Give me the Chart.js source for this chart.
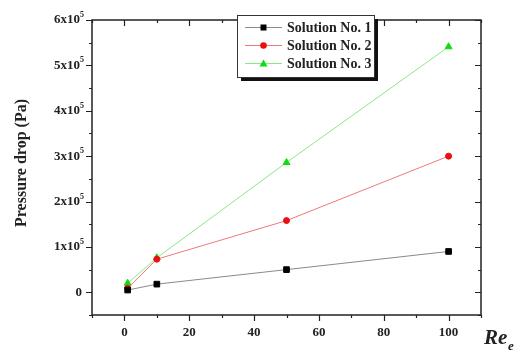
<!DOCTYPE html>
<html>
<head>
<meta charset="utf-8">
<script src="https://cdn.jsdelivr.net/npm/chart.js@4"></script>
<style>
  html, body { margin: 0; padding: 0; background: #fff; }
  #wrap { width: 516px; height: 352px; position: relative; }
</style>
</head>
<body>
<div id="wrap"><canvas id="myChart" width="516" height="352"></canvas></div>
<script>
// values
const reValues = [1, 10, 50, 100];
const solution1 = [5000, 18000, 50000, 90000];
const solution2 = [9000, 73000, 158000, 300000];
const solution3 = [20000, 76000, 286000, 541000];
const seriesNames = ['Solution No. 1', 'Solution No. 2', 'Solution No. 3'];
const xTicks = [0, 20, 40, 60, 80, 100];
const yTicks = [0, 1, 2, 3, 4, 5, 6]; // x10^5

const FONT = '"Liberation Serif", "Times New Roman", serif';

function pts(arr) {
  return reValues.map((x, i) => ({ x: x, y: arr[i] }));
}

// frame, ticks, labels and legend in the style of the original plot
const framePlugin = {
  id: 'frame',
  afterDraw(chart) {
    const c = chart.ctx;
    const a = chart.chartArea;
    const xs = chart.scales.x, ys = chart.scales.y;
    c.save();
    c.strokeStyle = '#222';
    c.lineWidth = 1.5;
    c.strokeRect(a.left, a.top, a.right - a.left, a.bottom - a.top);

    c.lineWidth = 1.2;
    c.beginPath();
    // x ticks (major 20, minor 10)
    for (let v = -10; v <= 110; v += 10) {
      const px = Math.round(xs.getPixelForValue(v)) + 0.5;
      const len = (v % 20 === 0) ? 6 : 3;
      c.moveTo(px, a.bottom); c.lineTo(px, a.bottom + len);
      c.moveTo(px, a.top); c.lineTo(px, a.top + len);
    }
    // y ticks (major 1e5, minor 5e4)
    for (let v = -50000; v <= 600000; v += 50000) {
      const py = Math.round(ys.getPixelForValue(v)) + 0.5;
      const len = (v % 100000 === 0) ? 6 : 3;
      c.moveTo(a.left, py); c.lineTo(a.left - len, py);
      c.moveTo(a.right, py); c.lineTo(a.right - len, py);
    }
    c.stroke();

    // tick labels
    c.fillStyle = '#222';
    c.font = 'bold 13px ' + FONT;
    c.textAlign = 'center';
    c.textBaseline = 'middle';
    xTicks.forEach(v => {
      c.fillText(String(v), xs.getPixelForValue(v), a.bottom + 18);
    });
    c.textAlign = 'right';
    yTicks.forEach(v => {
      const py = ys.getPixelForValue(v * 100000);
      if (v === 0) {
        c.font = 'bold 13px ' + FONT;
        c.fillText('0', a.left - 10, py);
      } else {
        c.font = 'bold 8px ' + FONT;
        c.fillText('5', a.left - 8, py - 5);
        c.font = 'bold 13px ' + FONT;
        c.fillText(v + 'x10', a.left - 12, py);
      }
    });

    // axis titles
    c.font = 'bold 16px ' + FONT;
    c.textAlign = 'center';
    c.save();
    c.translate(22, 163);
    c.rotate(-Math.PI / 2);
    c.fillText('Pressure drop (Pa)', 0, 0);
    c.restore();
    c.textAlign = 'left';
    c.font = 'italic bold 21px ' + FONT;
    c.fillText('Re', 484, 339);
    c.font = 'italic bold 13px ' + FONT;
    c.fillText('e', 508, 347);

    // legend box with shadow
    const lx = 237, ly = 15, lw = 137, lh = 62;
    c.fillStyle = '#111';
    c.fillRect(lx + 4, ly + 4, lw, lh);
    c.fillStyle = '#fff';
    c.fillRect(lx, ly, lw, lh);
    c.strokeStyle = '#333';
    c.lineWidth = 1;
    c.strokeRect(lx + 0.5, ly + 0.5, lw, lh);
    chart.data.datasets.forEach((ds, i) => {
      const y = 27 + i * 18;
      c.strokeStyle = ds.borderColor;
      c.lineWidth = 1;
      c.beginPath(); c.moveTo(245, y + 0.5); c.lineTo(282, y + 0.5); c.stroke();
      c.fillStyle = ds.pointBackgroundColor;
      c.beginPath();
      if (ds.pointStyle === 'rect') {
        c.rect(260.5, y - 2.5, 6, 6);
      } else if (ds.pointStyle === 'circle') {
        c.arc(263.5, y + 0.5, 3.3, 0, Math.PI * 2);
      } else {
        c.moveTo(263.5, y - 3.5); c.lineTo(267.5, y + 3.5); c.lineTo(259.5, y + 3.5); c.closePath();
      }
      c.fill();
      c.fillStyle = '#222';
      c.font = 'bold 14px ' + FONT;
      c.textBaseline = 'middle';
      c.fillText(seriesNames[i], 287, y + 1);
    });
    c.restore();
  }
};

const ctx = document.getElementById('myChart').getContext('2d');
const myChart = new Chart(ctx, {
  type: 'line',
  data: {
    datasets: [{
      label: seriesNames[0],
      data: pts(solution1),
      borderColor: '#8a8a8a',
      pointBackgroundColor: '#000',
      pointBorderColor: '#000',
      pointStyle: 'rect',
      pointRadius: 4,
      borderWidth: 1
    }, {
      label: seriesNames[1],
      data: pts(solution2),
      borderColor: '#f07878',
      pointBackgroundColor: '#e81010',
      pointBorderColor: '#e81010',
      pointStyle: 'circle',
      pointRadius: 3,
      borderWidth: 1
    }, {
      label: seriesNames[2],
      data: pts(solution3),
      borderColor: '#88e888',
      pointBackgroundColor: '#10dd10',
      pointBorderColor: '#10dd10',
      pointStyle: 'triangle',
      pointRadius: 4,
      borderWidth: 1
    }]
  },
  options: {
    responsive: false,
    animation: false,
    layout: { padding: { left: 92, right: 35, top: 20, bottom: 37 } },
    plugins: { legend: { display: false }, tooltip: { enabled: false } },
    scales: {
      x: { type: 'linear', display: false, min: -10, max: 110 },
      y: { type: 'linear', display: false, min: -50000, max: 600000 }
    }
  },
  plugins: [framePlugin]
});
</script>
</body>
</html>
